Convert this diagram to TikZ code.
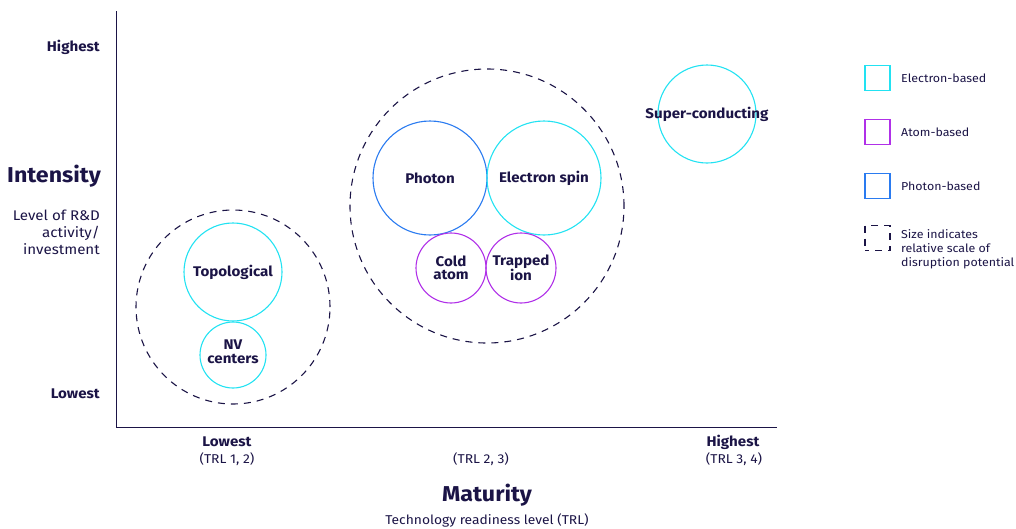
\documentclass[tikz,border=0pt]{standalone}
\usepackage{fontspec}
\setmainfont{Fira Sans}[FakeStretch=1.08]
\definecolor{navy}{HTML}{1B1446}
\definecolor{ecyan}{HTML}{22E2F2}
\definecolor{apurple}{HTML}{B030E8}
\definecolor{pblue}{HTML}{2A7BF0}
\begin{document}
\begin{tikzpicture}[x=1pt,y=-1pt,
  txt/.style={text=navy,inner sep=0pt,font=\fontsize{12.8}{14}\selectfont},
  btxt/.style={txt,font=\fontsize{14}{13.5}\selectfont\bfseries,align=center},
  ttl/.style={txt,font=\fontsize{21.5}{24}\selectfont\bfseries},
  elec/.style={draw=ecyan,line width=1.1pt,circle,inner sep=0pt},
  atom/.style={draw=apurple,line width=1.1pt,circle,inner sep=0pt},
  phot/.style={draw=pblue,line width=1.1pt,circle,inner sep=0pt},
  grp/.style={draw=navy,line width=1.1pt,dash pattern=on 7pt off 6pt,circle,inner sep=0pt},
  legsq/.style={minimum size=25pt,inner sep=0pt,line width=1.1pt},
  legtxt/.style={txt,font=\fontsize{11.5}{14}\selectfont,anchor=west,align=left}]
\useasboundingbox (0,0) rectangle (1016,528);
% axes
\coordinate (top) at (116,11);
\coordinate (orig) at (116,427);
\coordinate (right) at (777,427);
\draw[navy,line width=1pt] (top) -- (orig) -- (right);
% y labels
\node[btxt,anchor=east] (yhi) at (100,47) {Highest};
\node[btxt,anchor=east] (ylo) at (100,394) {Lowest};
\node[ttl,anchor=east] (yttl) at (101,176) {Intensity};
\node[txt,anchor=north east,align=right,font=\fontsize{14}{17}\selectfont] (ysub) at (100,210) {Level of R\&D\\activity/\\investment};
% x labels
\node[btxt] (xlo) at (227,442) {Lowest};
\node[txt] (xlo2) at (227,459) {(TRL 1, 2)};
\node[txt] (xmid) at (481,459) {(TRL 2, 3)};
\node[btxt] (xhi) at (733,442) {Highest};
\node[txt] (xhi2) at (734,459) {(TRL 3, 4)};
\node[ttl] (xttl) at (487,495) {Maturity};
\node[txt] (xsub) at (487,520) {Technology readiness level (TRL)};
% group 1
\node[grp,minimum size=194pt] (g1) at (233,307) {};
\node[elec,minimum size=98pt] (topo) at (233,272) {};
\node[btxt] at (topo.center) {Topological};
\node[elec,minimum size=66pt] (nv) at (233,355) {};
\node[btxt] at ([yshift=3pt]nv.center) {NV\\centers};
% group 2
\node[grp,minimum size=274pt] (g2) at (487,206) {};
\node[phot,minimum size=114pt] (phot) at (430,178) {};
\node[btxt] at (phot.center) {Photon};
\node[elec,minimum size=114pt] (espin) at (544,178) {};
\node[btxt] at (espin.center) {Electron spin};
\node[atom,minimum size=70pt] (cold) at (451,268) {};
\node[btxt] at (cold.center) {Cold\\atom};
\node[atom,minimum size=70pt] (trap) at (521,268) {};
\node[btxt] at (trap.center) {Trapped\\ion};
% superconducting
\node[elec,minimum size=98pt] (sc) at (707,114) {};
\node[btxt] at (sc.center) {Super-conducting};
% legend
\node[legsq,draw=ecyan] (l1) at (877.5,78) {};
\node[legtxt] at (901,78) {Electron-based};
\node[legsq,draw=apurple] (l2) at (877.5,132) {};
\node[legtxt] at (901,132) {Atom-based};
\node[legsq,draw=pblue] (l3) at (877.5,186) {};
\node[legtxt] at (901,186) {Photon-based};
\node[legsq,draw=navy,dash pattern=on 7pt off 6pt,dash phase=3pt] (l4) at (877.5,238) {};
\node[legtxt,anchor=north west] at (901,229.5) {Size indicates\\relative scale of\\disruption potential};
\end{tikzpicture}
\end{document}
